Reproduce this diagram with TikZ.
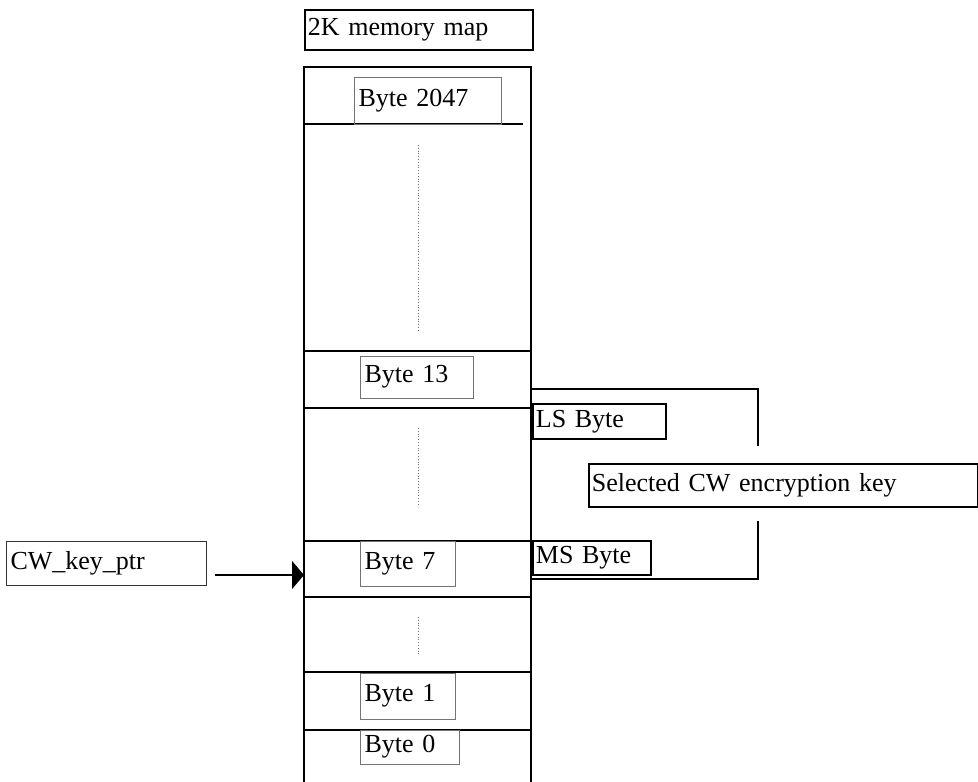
\documentclass[tikz,border=0pt]{standalone}
\usepackage{fontspec}
\setmainfont{Liberation Serif}
\usetikzlibrary{arrows.meta}
\begin{document}
\begin{tikzpicture}[x=1pt, y=-1pt,
  every node/.style={font=\fontsize{26}{30}\selectfont},
  cell/.style={draw=black!55, line width=1pt, anchor=west, inner xsep=4pt, inner ysep=0pt, align=left},
  tag/.style={draw, line width=1.8pt, anchor=west, inner xsep=3pt, inner ysep=0pt, align=left},
  grid/.style={line width=2pt},
  gap/.style={black!55, dotted, line width=0.8pt}]
\useasboundingbox (0,0) rectangle (978,782);

% memory column
\draw[grid] (304,782)--(304,67)--(531,67)--(531,782);
\draw[grid] (304,124)--(523,124);
\foreach \y in {351,408,541,597,672,730}
{
    \draw[grid] (304,\y)--(531,\y);
}
\foreach \a/\b in {145/330,428/505,617/655}
{
    \draw[gap] (418,\a)--(418,\b);
}

% byte cells
\foreach \nm/\x/\y/\w/\h/\txt in {b2047/354/77/147/47/Byte 2047,b13/360/356/113/42/Byte 13,b7/360/541/95/45/Byte 7,b1/360/673/95/46/Byte 1,b0/360/730/99/34/Byte 0}
{
    \pgfmathsetmacro\tw{\w-8}
    \node[cell, minimum height=\h pt, text width=\tw pt] (\nm) at (\x,\y+\h/2) {\txt};
}

\node[tag, minimum height=40pt, text width=222pt] (title) at (304,30) {2K memory map};
\node[tag, minimum height=35pt, text width=127pt] (lsb) at (532,421.5) {LS Byte};
\node[tag, minimum height=34pt, text width=112pt] (msb) at (532,558) {MS Byte};
\node[tag, minimum height=43pt, text width=383pt] (key) at (588,485.5) {Selected CW encryption key};
\node[cell, draw=black!80, minimum height=44pt, text width=192pt] (ptr) at (6,563) {CW\_key\_ptr};

% pointer into the map
\coordinate (hit) at (304,575);
\draw[line width=1.3pt, -{Triangle[length=12pt, width=28pt]}] ([xshift=8pt]ptr.east |- hit) -- (hit);

% key bracket
\coordinate (lsend) at (758,446);
\coordinate (msend) at (758,521);
\draw[line width=1.8pt] (531,389) -| (lsend);
\draw[line width=1.8pt] (msend) |- (531,579);
\end{tikzpicture}
\end{document}
